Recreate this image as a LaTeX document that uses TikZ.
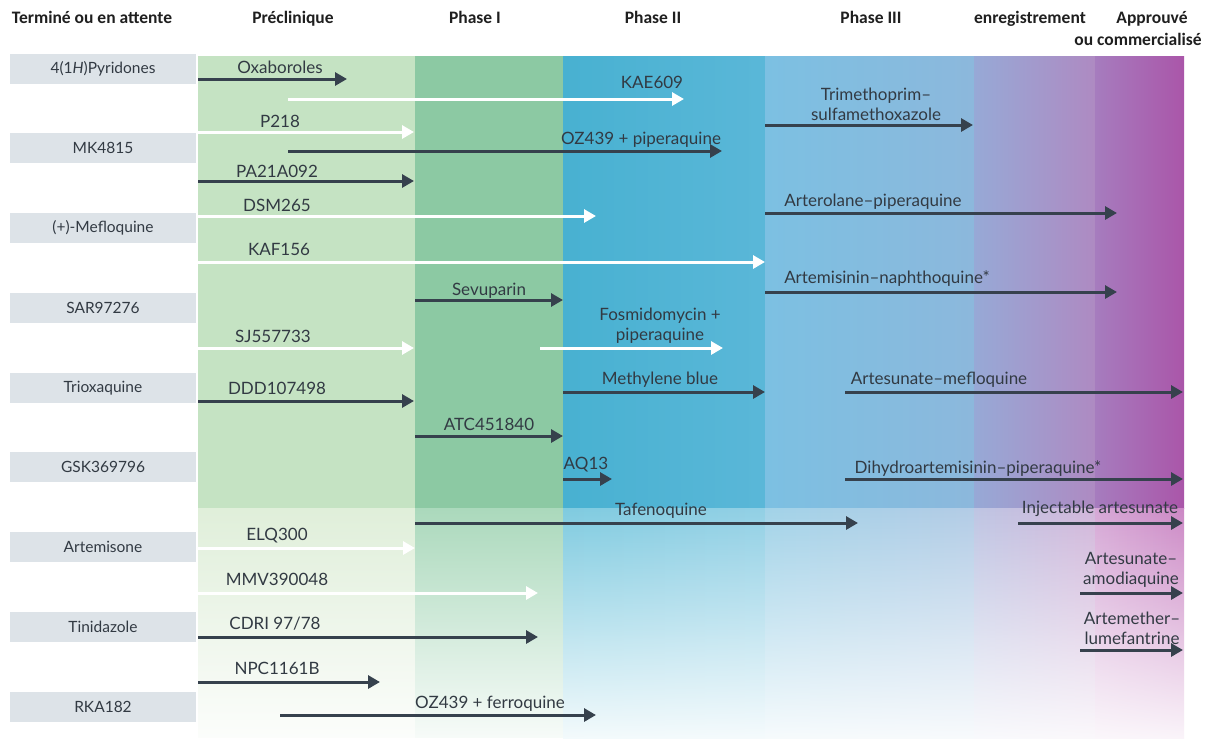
\documentclass[tikz,border=0pt]{standalone}
\usepackage{fontspec}
\setmainfont{Lato}
\newfontfamily\hdrfont{Carlito}
\usetikzlibrary{arrows.meta,fadings}

\definecolor{ink}{HTML}{36414D}
\definecolor{txt}{HTML}{323A43}
\definecolor{boxgray}{HTML}{DDE3E8}
\definecolor{preA}{HTML}{C5E3C3}
\definecolor{p1A}{HTML}{8CC9A3}
\definecolor{p2A}{HTML}{48B1D1}
\definecolor{p2B}{HTML}{5AB7D8}
\definecolor{p3A}{HTML}{7CC0E2}
\definecolor{p3B}{HTML}{8CB8DC}
\definecolor{rgA}{HTML}{97A9D6}
\definecolor{rgB}{HTML}{AE8AC2}
\definecolor{apA}{HTML}{A67CBE}
\definecolor{apB}{HTML}{AA56A9}
\definecolor{preL}{HTML}{E0EFDA}
\definecolor{p1L}{HTML}{ABD9BC}
\definecolor{p2La}{HTML}{7FCBE0}
\definecolor{p2Lb}{HTML}{92D0E5}
\definecolor{p3La}{HTML}{A2D3E8}
\definecolor{p3Lb}{HTML}{B3CCE6}
\definecolor{rgLa}{HTML}{BEC5E3}
\definecolor{rgLb}{HTML}{D2B6DA}
\definecolor{apLa}{HTML}{D6A8D6}
\definecolor{apLb}{HTML}{CC88C5}

\tikzfading[name=fadetowhite, top color=transparent!100, middle color=transparent!68, bottom color=transparent!0]

\newcommand\mkarrow[5]{\coordinate (#1s) at (#3,#5); \coordinate (#1e) at (#4,#5); \draw[#2] (#1s) -- (#1e);}

\begin{document}
\begin{tikzpicture}[x=1pt,y=-1pt,
  darr/.style={draw=ink, line width=3pt, -{Triangle[length=12pt,width=13pt]}},
  warr/.style={draw=white, line width=3pt, -{Triangle[length=12pt,width=13pt]}},
  lbl/.style={font=\fontsize{17}{20}\selectfont, text=txt, inner sep=0pt, anchor=base},
  lbltwo/.style={font=\fontsize{17}{20}\selectfont, text=txt, inner sep=0pt, align=center, anchor=center},
  hdr/.style={font=\hdrfont\bfseries\fontsize{17.5}{20}\selectfont, text=black!88, inner sep=0pt, anchor=base},
  gbox/.style={fill=boxgray, minimum width=186pt, minimum height=30pt, inner sep=0pt,
               font=\fontsize{15.5}{19}\selectfont, text=txt}]

\useasboundingbox[fill=white] (0,0) rectangle (1208,740);

% ---- background columns, upper part
\fill[preA] (198,56) rectangle (415,508);
\fill[p1A] (415,56) rectangle (563,508);
\shade[left color=p2A, right color=p2B] (563,56) rectangle (765,508);
\shade[left color=p3A, right color=p3B] (765,56) rectangle (974,508);
\shade[left color=rgA, right color=rgB] (974,56) rectangle (1095,508);
\shade[left color=apA, right color=apB] (1095,56) rectangle (1184,508);

% ---- background columns, lower part
\fill[preL] (198,508) rectangle (415,738);
\fill[p1L] (415,508) rectangle (563,738);
\shade[left color=p2La, right color=p2Lb] (563,508) rectangle (765,738);
\shade[left color=p3La, right color=p3Lb] (765,508) rectangle (974,738);
\shade[left color=rgLa, right color=rgLb] (974,508) rectangle (1095,738);
\shade[left color=apLa, right color=apLb] (1095,508) rectangle (1184,738);
\fill[white, path fading=fadetowhite] (192,508) rectangle (1192,760);

% ---- headers
\node[hdr] (h0) at (92,23) {Terminé ou en attente};
\node[hdr] (h1) at (293,23) {Préclinique};
\node[hdr] (h2) at (475,23) {Phase I};
\node[hdr] (h3) at (653,23) {Phase II};
\node[hdr] (h4) at (871,23) {Phase III};
\node[hdr] (h5) at (1030,23) {enregistrement};
\node[hdr] (h6) at (1152,23) {Approuvé};
\node[hdr] (h7) at (1138,45) {ou commercialisé};

% ---- left column boxes
\node[gbox] (b1) at (103,69) {4(1\textit{H})Pyridones};
\node[gbox] (b2) at (103,148) {MK4815};
\node[gbox] (b3) at (103,228) {(+)-Mefloquine};
\node[gbox] (b4) at (103,308) {SAR97276};
\node[gbox] (b5) at (103,388) {Trioxaquine};
\node[gbox] (b6) at (103,467) {GSK369796};
\node[gbox] (b7) at (103,547) {Artemisone};
\node[gbox] (b8) at (103,627) {Tinidazole};
\node[gbox] (b9) at (103,707) {RKA182};

% ---- arrows
\mkarrow{oxa}{darr}{198}{347}{79}
\mkarrow{kae}{warr}{288}{684}{99}
\mkarrow{tmp}{darr}{765}{973}{125}
\mkarrow{ptt}{warr}{198}{414}{132}
\mkarrow{ozp}{darr}{288}{722}{151}
\mkarrow{paa}{darr}{198}{414}{181}
\mkarrow{dsm}{warr}{198}{596}{216}
\mkarrow{arp}{darr}{765}{1117}{213}
\mkarrow{kaf}{warr}{198}{765}{262}
\mkarrow{anq}{darr}{765}{1117}{292}
\mkarrow{sev}{darr}{415}{563}{300}
\mkarrow{fos}{warr}{540}{723}{348}
\mkarrow{sjj}{warr}{198}{414}{348}
\mkarrow{ddd}{darr}{198}{414}{401}
\mkarrow{mbl}{darr}{563}{765}{392}
\mkarrow{asm}{darr}{845}{1183}{392}
\mkarrow{atc}{darr}{415}{563}{436}
\mkarrow{aqt}{darr}{563}{612}{479}
\mkarrow{dhp}{darr}{845}{1183}{479}
\mkarrow{taf}{darr}{415}{858}{523}
\mkarrow{inj}{darr}{1018}{1183}{523}
\mkarrow{elq}{warr}{198}{415}{548}
\mkarrow{asq}{darr}{1080}{1183}{593}
\mkarrow{mmv}{warr}{198}{538}{593}
\mkarrow{cdr}{darr}{198}{538}{637}
\mkarrow{alu}{darr}{1080}{1183}{650}
\mkarrow{npc}{darr}{198}{380}{682}
\mkarrow{ozf}{darr}{280}{596}{715}

% ---- labels
\node[lbl] (l1) at (280,73) {Oxaboroles};
\node[lbl] (l2) at (652,88) {KAE609};
\node[lbltwo] (l3) at (876,104) {Trimethoprim–\\sulfamethoxazole};
\node[lbl] (l4) at (280,127) {P218};
\node[lbl] (l5) at (641,144) {OZ439 + piperaquine};
\node[lbl] (l6) at (277,177) {PA21A092};
\node[lbl] (l7) at (277,211) {DSM265};
\node[lbl] (l8) at (873,206) {Arterolane–piperaquine};
\node[lbl] (l9) at (279,255) {KAF156};
\node[lbl] (l10) at (887,283) {Artemisinin–naphthoquine*};
\node[lbl] (l11) at (489,295) {Sevuparin};
\node[lbltwo] (l12) at (660,326) {Fosmidomycin +\\piperaquine};
\node[lbl] (l13) at (273,342) {SJ557733};
\node[lbl] (l14) at (277,394) {DDD107498};
\node[lbl] (l15) at (660,384) {Methylene blue};
\node[lbl] (l16) at (939,384) {Artesunate–mefloquine};
\node[lbl] (l17) at (489,430) {ATC451840};
\node[lbl] (l18) at (586,469) {AQ13};
\node[lbl] (l19) at (978,473) {Dihydroartemisinin–piperaquine*};
\node[lbl] (l20) at (661,515) {Tafenoquine};
\node[lbl] (l21) at (1100,513) {Injectable artesunate};
\node[lbl] (l22) at (277,540) {ELQ300};
\node[lbltwo] (l23) at (1131,570) {Artesunate–\\amodiaquine};
\node[lbl] (l24) at (277,585) {MMV390048};
\node[lbl] (l25) at (275,629) {CDRI 97/78};
\node[lbltwo] (l26) at (1132,628) {Artemether–\\lumefantrine};
\node[lbl] (l27) at (277,674) {NPC1161B};
\node[lbl] (l28) at (490,708) {OZ439 + ferroquine};

\end{tikzpicture}
\end{document}
